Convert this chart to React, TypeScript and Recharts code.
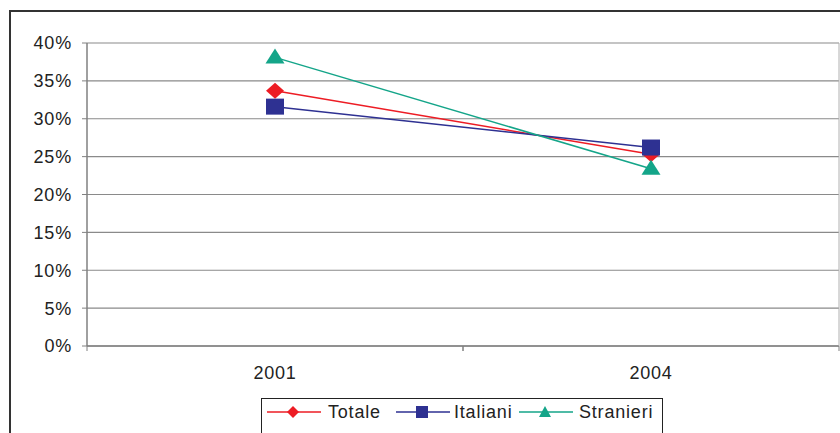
import React from 'react';
import { LineChart, Line, XAxis, YAxis, CartesianGrid, Legend } from 'recharts';

const years = ['2001', '2004'];
const totale = [33.7, 25.3];
const italiani = [31.6, 26.2];
const stranieri = [38.1, 23.4];
const yTicks = [0, 5, 10, 15, 20, 25, 30, 35, 40];

const RED = '#ED1C24';
const NAVY = '#2E3192';
const TEAL = '#14A589';
const FONT = '"Liberation Sans", Arial, sans-serif';

const data = years.map((y, i) => ({
  year: y,
  Totale: totale[i],
  Italiani: italiani[i],
  Stranieri: stranieri[i],
}));

const Diamond = (p: any) => {
  const { cx, cy, fill } = p;
  if (cx == null || cy == null) return null;
  return <path d={`M${cx - 9},${cy} L${cx},${cy - 8} L${cx + 9},${cy} L${cx},${cy + 8} Z`} fill={fill} stroke="none" />;
};
const Square = (p: any) => {
  const { cx, cy, fill } = p;
  if (cx == null || cy == null) return null;
  return <rect x={cx - 9} y={cy - 8} width={18} height={16} fill={fill} stroke="none" />;
};
const Triangle = (p: any) => {
  const { cx, cy, fill } = p;
  if (cx == null || cy == null) return null;
  return <path d={`M${cx},${cy - 9} L${cx + 9.5},${cy + 6} L${cx - 9.5},${cy + 6} Z`} fill={fill} stroke="none" />;
};

const XTick = (p: any) => {
  const { x, y, payload } = p;
  const off = payload && payload.offset ? payload.offset : 0;
  return (
    <g>
      <line x1={x - off} y1={346} x2={x - off} y2={351} stroke="#808080" />
      <line x1={x + off} y1={346} x2={x + off} y2={351} stroke="#808080" />
      <text x={x} y={y} dy="0.71em" textAnchor="middle" fill="#222" fontSize={18} fontFamily={FONT} letterSpacing={0.8}>
        {payload.value}
      </text>
    </g>
  );
};

const iconFor = (name: string, color: string) => {
  const cx = 26, cy = 13;
  let marker: React.ReactNode = null;
  if (name === 'Totale') marker = <path d={`M${cx - 6},${cy} L${cx},${cy - 6} L${cx + 6},${cy} L${cx},${cy + 6} Z`} fill={color} />;
  else if (name === 'Italiani') marker = <rect x={cx - 6} y={cy - 6} width={12} height={12} fill={color} />;
  else marker = <path d={`M${cx},${cy - 6} L${cx + 6},${cy + 5} L${cx - 6},${cy + 5} Z`} fill={color} />;
  return (
    <svg width={54} height={26} style={{ display: 'block' }}>
      <line x1={0} y1={cy} x2={54} y2={cy} stroke={color} strokeWidth={1.3} />
      {marker}
    </svg>
  );
};

const LegendContent = (props: any) => {
  const payload = props.payload || [];
  const textLeft: Record<string, number> = { Totale: 66, Italiani: 192, Stranieri: 317 };
  const iconLeft: Record<string, number> = { Totale: 5, Italiani: 134, Stranieri: 257 };
  return (
    <div style={{ position: 'relative', width: 402, height: 40, border: '1px solid #222', boxSizing: 'border-box', background: '#fff' }}>
      {payload.map((e: any) => (
        <React.Fragment key={e.value}>
          <div style={{ position: 'absolute', left: iconLeft[e.value], top: 0 }}>{iconFor(e.value, e.color)}</div>
          <div style={{ position: 'absolute', left: textLeft[e.value], top: 1, fontFamily: FONT, fontSize: 18, lineHeight: '24px', color: '#222', letterSpacing: 0.8 }}>
            {e.value}
          </div>
        </React.Fragment>
      ))}
    </div>
  );
};

export default function App() {
  return (
    <div style={{ position: 'absolute', left: 0, top: 0, width: 840, height: 433, background: '#fff', overflow: 'hidden' }}>
      <div style={{ position: 'absolute', left: 9, top: 10, width: 900, height: 500, borderLeft: '2px solid #333', borderTop: '2px solid #333' }} />
      <div style={{ position: 'absolute', left: 0, top: 0 }}>
        <LineChart width={840} height={433} data={data} margin={{ top: 43, right: 0, bottom: 57, left: 0 }}>
          <CartesianGrid vertical={false} stroke="#8a8a8a" strokeWidth={1.2} />
          <XAxis
            dataKey="year"
            scale="band"
            axisLine={{ stroke: '#808080', strokeWidth: 1.5 }}
            tickLine={false}
            tickSize={0}
            tickMargin={20}
            height={30}
            tick={<XTick />}
            interval={0}
          />
          <YAxis
            domain={[0, 40]}
            ticks={yTicks}
            tickFormatter={(v: number) => `${v}%`}
            width={87}
            tickSize={5}
            tickMargin={10}
            axisLine={{ stroke: '#808080', strokeWidth: 1.5 }}
            tickLine={{ stroke: '#808080' }}
            tick={{ fill: '#222', fontSize: 18, fontFamily: FONT, letterSpacing: 0.8 }}
            interval={0}
          />
          <YAxis yAxisId="r" orientation="right" width={1} domain={[0, 40]} tick={false} tickLine={false} axisLine={{ stroke: '#b0b0b0' }} />
          <Legend
            verticalAlign="middle"
            layout="horizontal"
            content={<LegendContent />}
            wrapperStyle={{ position: 'absolute', left: 261, top: 398, width: 402, height: 40 }}
          />
          <Line type="linear" dataKey="Totale" stroke={RED} strokeWidth={1.5} fill={RED} dot={<Diamond />} activeDot={false} isAnimationActive={false} />
          <Line type="linear" dataKey="Italiani" stroke={NAVY} strokeWidth={1.5} fill={NAVY} dot={<Square />} activeDot={false} isAnimationActive={false} />
          <Line type="linear" dataKey="Stranieri" stroke={TEAL} strokeWidth={1.5} fill={TEAL} dot={<Triangle />} activeDot={false} isAnimationActive={false} />
        </LineChart>
      </div>
    </div>
  );
}
